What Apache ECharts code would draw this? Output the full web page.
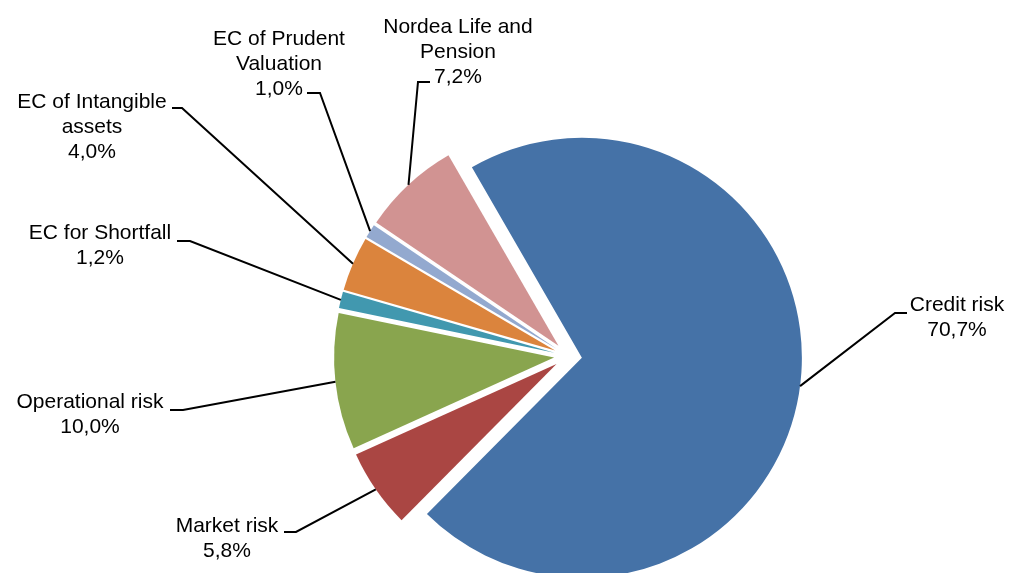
<!DOCTYPE html>
<html>
<head>
<meta charset="utf-8">
<script src="https://cdn.jsdelivr.net/npm/echarts@6/dist/echarts.min.js"></script>
<style>
  html, body { margin: 0; padding: 0; background: #ffffff; }
  #chart { width: 1009px; height: 573px; }
</style>
</head>
<body>
<div id="chart"></div>
<script>
// Economic capital breakdown, share of total (%)
const categories = [
  'Credit risk',
  'Market risk',
  'Operational risk',
  'EC for Shortfall',
  'EC of Intangible\nassets',
  'EC of Prudent\nValuation',
  'Nordea Life and\nPension'
];
const shares = [70.7, 5.8, 10.0, 1.2, 4.0, 1.0, 7.2];
const sliceColors = ['#4572A7', '#AA4643', '#89A54E', '#4198AF', '#DB843D', '#93A9CF', '#D19392'];

// Callout placement: text-block centre, then leader elbow and leader end beside the text
const calloutCentre = [[957, 318], [227, 539], [90, 415], [100, 246], [92, 127], [279, 64], [458, 52]];
const leaderElbow   = [[895, 313], [296, 532], [183, 410], [190, 241], [182, 108], [320, 93], [418, 82]];
const leaderEnd     = [[907, 313], [284, 532], [170, 410], [177, 241], [172, 108], [307, 93], [430, 82]];

const PIE_CENTER = [568, 356];
const PIE_RADIUS = 220;
const EXPLODE = 14;

const fmtPct = v => v.toFixed(1).replace('.', ',') + '%';

const chart = echarts.init(document.getElementById('chart'), null, { renderer: 'canvas' });

const common = {
  type: 'pie',
  center: PIE_CENTER,
  radius: PIE_RADIUS,
  startAngle: 120,
  clockwise: true,
  avoidLabelOverlap: false,
  emphasis: { disabled: true }
};

chart.setOption({
  animation: false,
  backgroundColor: '#ffffff',
  series: [
    // exploded slices
    Object.assign({}, common, {
      name: 'slices',
      selectedMode: 'multiple',
      selectedOffset: EXPLODE,
      label: { show: false },
      labelLine: { show: false },
      data: categories.map((name, i) => ({
        name: name,
        value: shares[i],
        selected: true,
        itemStyle: { color: sliceColors[i] }
      }))
    }),
    // callouts with leader lines, laid over the same geometry
    Object.assign({}, common, {
      name: 'callouts',
      silent: true,
      z: 3,
      data: categories.map((name, i) => ({
        name: name,
        value: shares[i],
        itemStyle: { color: 'rgba(0,0,0,0)' }
      })),
      label: {
        show: true,
        position: 'outside',
        formatter: p => p.name + '\n' + fmtPct(p.value),
        fontFamily: '"Liberation Sans", Arial, sans-serif',
        fontSize: 21,
        lineHeight: 25,
        color: '#000000',
        align: 'center'
      },
      labelLine: {
        show: true,
        lineStyle: { color: '#000000', width: 2, opacity: 1 }
      },
      labelLayout: params => {
        const i = params.dataIndex;
        const pts = params.labelLinePoints;
        let start = leaderElbow[i];
        if (pts && pts.length > 1) {
          // push the anchor out onto the exploded slice's rim
          const ux = pts[1][0] - pts[0][0], uy = pts[1][1] - pts[0][1];
          const len = Math.hypot(ux, uy) || 1;
          start = [pts[0][0] + ux / len * EXPLODE, pts[0][1] + uy / len * EXPLODE];
        }
        return {
          x: calloutCentre[i][0],
          y: calloutCentre[i][1],
          align: 'center',
          verticalAlign: 'middle',
          labelLinePoints: [start, leaderElbow[i], leaderEnd[i]]
        };
      }
    })
  ]
});
</script>
</body>
</html>
